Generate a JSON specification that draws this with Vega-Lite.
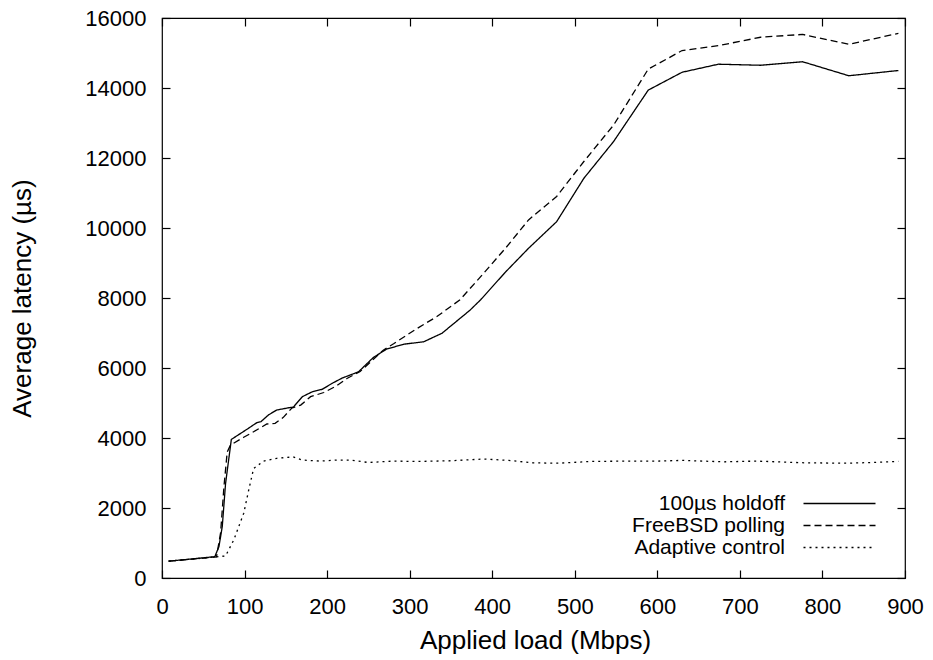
{
  "$schema": "https://vega.github.io/schema/vega-lite/v6.json",
  "width": 743,
  "height": 560,
  "autosize": "none",
  "padding": {"left": 162, "top": 18, "right": 28, "bottom": 82},
  "background": "white",
  "config": {
    "font": "Liberation Sans",
    "view": {"stroke": "black", "strokeWidth": 1.2},
    "axis": {
      "grid": false,
      "domain": false,
      "tickColor": "black",
      "tickSize": -8,
      "tickWidth": 1.2,
      "labelColor": "black",
      "labelFont": "Liberation Sans",
      "labelFontSize": 22,
      "titleFont": "Liberation Sans",
      "titleFontSize": 26,
      "titleFontWeight": "normal",
      "titleColor": "black"
    }
  },
  "data": {
    "values": [
      {"load": 8, "lat": 480, "s": "100µs holdoff"},
      {"load": 64, "lat": 610, "s": "100µs holdoff"},
      {"load": 69, "lat": 900, "s": "100µs holdoff"},
      {"load": 73, "lat": 1470, "s": "100µs holdoff"},
      {"load": 77, "lat": 2700, "s": "100µs holdoff"},
      {"load": 84, "lat": 3960, "s": "100µs holdoff"},
      {"load": 103, "lat": 4250, "s": "100µs holdoff"},
      {"load": 115, "lat": 4440, "s": "100µs holdoff"},
      {"load": 120, "lat": 4470, "s": "100µs holdoff"},
      {"load": 129, "lat": 4660, "s": "100µs holdoff"},
      {"load": 139, "lat": 4800, "s": "100µs holdoff"},
      {"load": 155, "lat": 4870, "s": "100µs holdoff"},
      {"load": 159, "lat": 4880, "s": "100µs holdoff"},
      {"load": 170, "lat": 5180, "s": "100µs holdoff"},
      {"load": 182, "lat": 5320, "s": "100µs holdoff"},
      {"load": 194, "lat": 5390, "s": "100µs holdoff"},
      {"load": 206, "lat": 5560, "s": "100µs holdoff"},
      {"load": 218, "lat": 5710, "s": "100µs holdoff"},
      {"load": 228, "lat": 5800, "s": "100µs holdoff"},
      {"load": 238, "lat": 5890, "s": "100µs holdoff"},
      {"load": 256, "lat": 6300, "s": "100µs holdoff"},
      {"load": 272, "lat": 6540, "s": "100µs holdoff"},
      {"load": 293, "lat": 6680, "s": "100µs holdoff"},
      {"load": 317, "lat": 6750, "s": "100µs holdoff"},
      {"load": 339, "lat": 6990, "s": "100µs holdoff"},
      {"load": 373, "lat": 7650, "s": "100µs holdoff"},
      {"load": 386, "lat": 7950, "s": "100µs holdoff"},
      {"load": 416, "lat": 8740, "s": "100µs holdoff"},
      {"load": 444, "lat": 9420, "s": "100µs holdoff"},
      {"load": 478, "lat": 10180, "s": "100µs holdoff"},
      {"load": 511, "lat": 11420, "s": "100µs holdoff"},
      {"load": 547, "lat": 12470, "s": "100µs holdoff"},
      {"load": 589, "lat": 13940, "s": "100µs holdoff"},
      {"load": 630, "lat": 14450, "s": "100µs holdoff"},
      {"load": 674, "lat": 14680, "s": "100µs holdoff"},
      {"load": 725, "lat": 14650, "s": "100µs holdoff"},
      {"load": 776, "lat": 14750, "s": "100µs holdoff"},
      {"load": 832, "lat": 14350, "s": "100µs holdoff"},
      {"load": 892, "lat": 14500, "s": "100µs holdoff"},

      {"load": 8, "lat": 480, "s": "FreeBSD polling"},
      {"load": 66, "lat": 600, "s": "FreeBSD polling"},
      {"load": 71, "lat": 1300, "s": "FreeBSD polling"},
      {"load": 75, "lat": 2600, "s": "FreeBSD polling"},
      {"load": 79, "lat": 3600, "s": "FreeBSD polling"},
      {"load": 83, "lat": 3800, "s": "FreeBSD polling"},
      {"load": 99, "lat": 4020, "s": "FreeBSD polling"},
      {"load": 111, "lat": 4180, "s": "FreeBSD polling"},
      {"load": 127, "lat": 4400, "s": "FreeBSD polling"},
      {"load": 137, "lat": 4420, "s": "FreeBSD polling"},
      {"load": 147, "lat": 4590, "s": "FreeBSD polling"},
      {"load": 157, "lat": 4850, "s": "FreeBSD polling"},
      {"load": 168, "lat": 4940, "s": "FreeBSD polling"},
      {"load": 180, "lat": 5180, "s": "FreeBSD polling"},
      {"load": 196, "lat": 5300, "s": "FreeBSD polling"},
      {"load": 210, "lat": 5470, "s": "FreeBSD polling"},
      {"load": 224, "lat": 5700, "s": "FreeBSD polling"},
      {"load": 240, "lat": 5900, "s": "FreeBSD polling"},
      {"load": 268, "lat": 6510, "s": "FreeBSD polling"},
      {"load": 281, "lat": 6700, "s": "FreeBSD polling"},
      {"load": 309, "lat": 7130, "s": "FreeBSD polling"},
      {"load": 333, "lat": 7470, "s": "FreeBSD polling"},
      {"load": 361, "lat": 7950, "s": "FreeBSD polling"},
      {"load": 386, "lat": 8610, "s": "FreeBSD polling"},
      {"load": 416, "lat": 9420, "s": "FreeBSD polling"},
      {"load": 444, "lat": 10230, "s": "FreeBSD polling"},
      {"load": 478, "lat": 10900, "s": "FreeBSD polling"},
      {"load": 511, "lat": 11900, "s": "FreeBSD polling"},
      {"load": 547, "lat": 12940, "s": "FreeBSD polling"},
      {"load": 589, "lat": 14540, "s": "FreeBSD polling"},
      {"load": 630, "lat": 15070, "s": "FreeBSD polling"},
      {"load": 674, "lat": 15210, "s": "FreeBSD polling"},
      {"load": 725, "lat": 15450, "s": "FreeBSD polling"},
      {"load": 776, "lat": 15530, "s": "FreeBSD polling"},
      {"load": 832, "lat": 15250, "s": "FreeBSD polling"},
      {"load": 892, "lat": 15560, "s": "FreeBSD polling"},

      {"load": 8, "lat": 480, "s": "Adaptive control"},
      {"load": 64, "lat": 600, "s": "Adaptive control"},
      {"load": 77, "lat": 630, "s": "Adaptive control"},
      {"load": 87, "lat": 1090, "s": "Adaptive control"},
      {"load": 99, "lat": 1850, "s": "Adaptive control"},
      {"load": 105, "lat": 2510, "s": "Adaptive control"},
      {"load": 111, "lat": 3130, "s": "Adaptive control"},
      {"load": 123, "lat": 3340, "s": "Adaptive control"},
      {"load": 139, "lat": 3420, "s": "Adaptive control"},
      {"load": 159, "lat": 3460, "s": "Adaptive control"},
      {"load": 170, "lat": 3370, "s": "Adaptive control"},
      {"load": 192, "lat": 3340, "s": "Adaptive control"},
      {"load": 212, "lat": 3370, "s": "Adaptive control"},
      {"load": 228, "lat": 3370, "s": "Adaptive control"},
      {"load": 250, "lat": 3300, "s": "Adaptive control"},
      {"load": 280, "lat": 3340, "s": "Adaptive control"},
      {"load": 310, "lat": 3330, "s": "Adaptive control"},
      {"load": 350, "lat": 3350, "s": "Adaptive control"},
      {"load": 390, "lat": 3400, "s": "Adaptive control"},
      {"load": 420, "lat": 3360, "s": "Adaptive control"},
      {"load": 450, "lat": 3290, "s": "Adaptive control"},
      {"load": 480, "lat": 3280, "s": "Adaptive control"},
      {"load": 520, "lat": 3330, "s": "Adaptive control"},
      {"load": 560, "lat": 3340, "s": "Adaptive control"},
      {"load": 600, "lat": 3340, "s": "Adaptive control"},
      {"load": 630, "lat": 3360, "s": "Adaptive control"},
      {"load": 680, "lat": 3320, "s": "Adaptive control"},
      {"load": 720, "lat": 3340, "s": "Adaptive control"},
      {"load": 780, "lat": 3290, "s": "Adaptive control"},
      {"load": 830, "lat": 3280, "s": "Adaptive control"},
      {"load": 860, "lat": 3300, "s": "Adaptive control"},
      {"load": 892, "lat": 3330, "s": "Adaptive control"}
    ]
  },
  "layer": [
    {
      "mark": {"type": "line", "strokeWidth": 1.3, "interpolate": "linear"},
      "encoding": {
        "x": {
          "field": "load", "type": "quantitative",
          "scale": {"domain": [0, 900], "nice": false, "zero": false},
          "axis": {"orient": "bottom", "title": "Applied load (Mbps)", "values": [0,100,200,300,400,500,600,700,800,900], "labelPadding": 26, "labelFlush": false, "titleX": 373, "titleY": 62, "titleBaseline": "middle"}
        },
        "y": {
          "field": "lat", "type": "quantitative",
          "scale": {"domain": [0, 16000], "nice": false},
          "axis": {"orient": "left", "title": "Average latency (µs)", "values": [0,2000,4000,6000,8000,10000,12000,14000,16000], "format": "d", "labelPadding": 24, "labelFlush": false, "titleX": -140, "titleY": 280, "titleAngle": -90, "titleBaseline": "middle"}
        },
        "color": {
          "field": "s", "type": "nominal",
          "scale": {"domain": ["100µs holdoff", "FreeBSD polling", "Adaptive control"], "range": ["black", "black", "black"]},
          "legend": {
            "orient": "none", "legendX": 667, "legendY": 475,
            "title": null, "symbolType": "M-4.5,0H4.5", "symbolSize": 256, "symbolStrokeWidth": 1.3, "symbolFillColor": "transparent",
            "labelFontSize": 21, "labelColor": "black", "labelAlign": "right", "labelOffset": -65,
            "rowPadding": 0, "padding": 0, "labelLimit": 400
          }
        },
        "strokeDash": {
          "field": "s", "type": "nominal",
          "scale": {"domain": ["100µs holdoff", "FreeBSD polling", "Adaptive control"], "range": [[1, 0], [7, 4], [2, 4]]},
          "legend": {
            "orient": "none", "legendX": 667, "legendY": 475,
            "title": null, "symbolType": "M-4.5,0H4.5", "symbolSize": 256, "symbolStrokeWidth": 1.3, "symbolFillColor": "transparent",
            "labelFontSize": 21, "labelColor": "black", "labelAlign": "right", "labelOffset": -65,
            "rowPadding": 0, "padding": 0, "labelLimit": 400
          }
        }
      }
    },
    {
      "mark": {"type": "point", "opacity": 0},
      "encoding": {
        "x": {
          "field": "load", "type": "quantitative",
          "scale": {"domain": [0, 900], "nice": false, "zero": false},
          "axis": {"orient": "top", "title": null, "labels": false, "values": [0,100,200,300,400,500,600,700,800,900]}
        },
        "y": {
          "field": "lat", "type": "quantitative",
          "scale": {"domain": [0, 16000], "nice": false},
          "axis": {"orient": "right", "title": null, "labels": false, "values": [0,2000,4000,6000,8000,10000,12000,14000,16000]}
        }
      }
    }
  ],
  "resolve": {"axis": {"x": "independent", "y": "independent"}}
}
